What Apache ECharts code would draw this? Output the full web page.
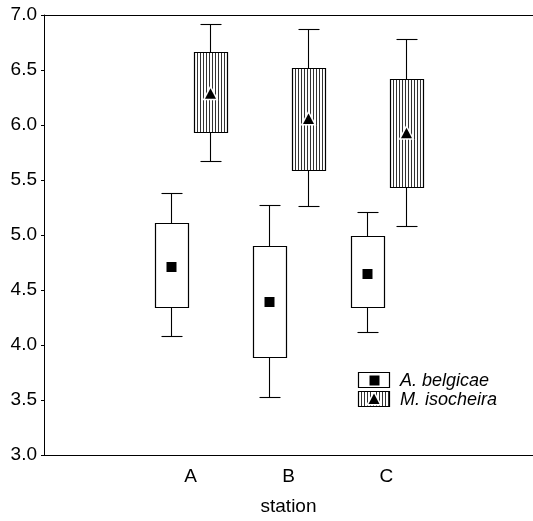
<!DOCTYPE html>
<html>
<head>
<meta charset="utf-8">
<script src="https://cdn.jsdelivr.net/npm/echarts@6/dist/echarts.min.js"></script>
<style>
  html, body { margin: 0; padding: 0; background: #fff; }
  #chart { width: 533px; height: 521px; }
</style>
</head>
<body>
<div id="chart"></div>
<script>
// stations, padded with an empty slot on each side
var categories = ['', 'A', 'B', 'C', '']
var stations = ['A', 'B', 'C']
var yTicks = [3.0, 3.5, 4.0, 4.5, 5.0, 5.5, 6.0, 6.5, 7.0]

// A. belgicae
var belgMean = [4.71, 4.39, 4.65]
var belgBoxLow = [4.35, 3.89, 4.35]
var belgBoxHigh = [5.11, 4.90, 4.99]
var belgWhiskLow = [4.08, 3.53, 4.12]
var belgWhiskHigh = [5.38, 5.27, 5.21]

// M. isocheira
var isoMean = [6.28, 6.05, 5.92]
var isoBoxLow = [5.94, 5.59, 5.44]
var isoBoxHigh = [6.66, 6.52, 6.42]
var isoWhiskLow = [5.67, 5.26, 5.08]
var isoWhiskHigh = [6.92, 6.87, 6.78]

var FONT = "'Liberation Sans', Arial, sans-serif"

function buildData(wl, bl, m, bh, wh) {
  var out = []
  for (var i = 0; i < stations.length; i++) {
    out.push([categories.indexOf(stations[i]), wl[i], bl[i], m[i], bh[i], wh[i]])
  }
  return out
}

var px = function (v) { return Math.round(v) + 0.5 }

function makeRender(hatched) {
  return function (params, api) {
    var xi = api.value(0)
    var band = api.size([1, 0])[0]
    var off = (hatched ? 1 : -1) * band * 0.198
    var w = band * 0.33
    var cap = band * 0.224
    var base = api.coord([xi, api.value(3)])
    var cx = px(base[0] + off)
    var yWL = px(api.coord([xi, api.value(1)])[1])
    var yBL = px(api.coord([xi, api.value(2)])[1])
    var yM = api.coord([xi, api.value(3)])[1]
    var yBH = px(api.coord([xi, api.value(4)])[1])
    var yWH = px(api.coord([xi, api.value(5)])[1])
    var left = px(cx - w / 2)
    var right = px(cx + w / 2)
    var line = { stroke: '#000', lineWidth: 1.1 }
    var kids = [
      { type: 'line', shape: { x1: cx, y1: yWH, x2: cx, y2: yBH }, style: line },
      { type: 'line', shape: { x1: cx, y1: yBL, x2: cx, y2: yWL }, style: line },
      { type: 'line', shape: { x1: px(cx - cap / 2), y1: yWH, x2: px(cx + cap / 2), y2: yWH }, style: line },
      { type: 'line', shape: { x1: px(cx - cap / 2), y1: yWL, x2: px(cx + cap / 2), y2: yWL }, style: line },
      { type: 'rect', shape: { x: left, y: yBH, width: right - left, height: yBL - yBH }, style: { fill: '#fff', stroke: null } }
    ]
    if (hatched) {
      for (var hx = left + 3; hx < right - 1; hx += 3) {
        kids.push({ type: 'line', shape: { x1: hx, y1: yBH, x2: hx, y2: yBL }, style: { stroke: '#333', lineWidth: 1 } })
      }
    }
    kids.push({ type: 'rect', shape: { x: left, y: yBH, width: right - left, height: yBL - yBH }, style: { fill: null, stroke: '#000', lineWidth: 1.2 } })
    if (hatched) {
      var pts = [[cx, yM - 6], [cx + 5.5, yM + 4.5], [cx - 5.5, yM + 4.5]]
      kids.push({ type: 'polygon', shape: { points: pts }, style: { fill: '#fff', stroke: '#fff', lineWidth: 3 } })
      kids.push({ type: 'polygon', shape: { points: pts }, style: { fill: '#000' } })
    } else {
      kids.push({ type: 'rect', shape: { x: cx - 5, y: Math.round(yM) - 5, width: 10, height: 10 }, style: { fill: '#000' } })
    }
    return { type: 'group', children: kids }
  }
}

// legend drawn as graphic: box icon + marker + italic name
function legendItems() {
  var items = []
  var lx = 358, w = 31, h = 15
  var rows = [{ y: 372, name: 'A. belgicae', hatched: false }, { y: 391, name: 'M. isocheira', hatched: true }]
  rows.forEach(function (r) {
    var y = r.y
    items.push({ type: 'rect', shape: { x: lx + 0.5, y: y + 0.5, width: w, height: h }, style: { fill: '#fff', stroke: null } })
    if (r.hatched) {
      for (var hx = lx + 3.5; hx < lx + w; hx += 3) {
        items.push({ type: 'line', shape: { x1: hx, y1: y + 0.5, x2: hx, y2: y + h + 0.5 }, style: { stroke: '#333', lineWidth: 1 } })
      }
      var cx = lx + w / 2 + 0.5, cy = y + h / 2 + 1
      var pts = [[cx, cy - 6], [cx + 5.5, cy + 4.5], [cx - 5.5, cy + 4.5]]
      items.push({ type: 'polygon', shape: { points: pts }, style: { fill: '#fff', stroke: '#fff', lineWidth: 3 } })
      items.push({ type: 'polygon', shape: { points: pts }, style: { fill: '#000' } })
    } else {
      items.push({ type: 'rect', shape: { x: lx + w / 2 - 4, y: y + h / 2 - 4, width: 10, height: 10 }, style: { fill: '#000' } })
    }
    items.push({ type: 'rect', shape: { x: lx + 0.5, y: y + 0.5, width: w, height: h }, style: { fill: null, stroke: '#000', lineWidth: 1.2 } })
    items.push({ type: 'text', x: 400, y: y + h / 2 + 1, style: { text: r.name, font: 'italic 18px ' + FONT, fill: '#000', verticalAlign: 'middle' } })
  })
  return items
}

var chart = echarts.init(document.getElementById('chart'))
chart.setOption({
  backgroundColor: '#fff',
  animation: false,
  grid: { left: 44, top: 15, width: 492, bottom: 62, containLabel: false },
  xAxis: [
    {
      type: 'category',
      data: categories,
      boundaryGap: true,
      name: 'station',
      nameLocation: 'middle',
      nameGap: 42,
      nameTextStyle: { fontSize: 19, fontFamily: FONT, color: '#000' },
      axisLine: { lineStyle: { color: '#000', width: 1 } },
      axisTick: { inside: true, length: 3, alignWithLabel: true, lineStyle: { color: '#000' } },
      axisLabel: { fontSize: 19, fontFamily: FONT, color: '#000', margin: 12 },
      splitLine: { show: false }
    },
    {
      type: 'category',
      data: categories,
      position: 'top',
      boundaryGap: true,
      axisLine: { lineStyle: { color: '#000', width: 1 } },
      axisTick: { inside: true, length: 3, alignWithLabel: true, lineStyle: { color: '#000' } },
      axisLabel: { show: false },
      splitLine: { show: false }
    }
  ],
  yAxis: {
    type: 'value',
    min: yTicks[0],
    max: yTicks[yTicks.length - 1],
    interval: 0.5,
    axisLine: { show: true, lineStyle: { color: '#000', width: 1 } },
    axisTick: { show: true, length: 3, lineStyle: { color: '#000' } },
    axisLabel: {
      fontSize: 19, fontFamily: FONT, color: '#000', margin: 7,
      formatter: function (v) { return v.toFixed(1) }
    },
    splitLine: { show: false }
  },
  series: [
    {
      name: 'A. belgicae',
      type: 'custom',
      renderItem: makeRender(false),
      encode: { x: 0, y: [1, 2, 3, 4, 5] },
      data: buildData(belgWhiskLow, belgBoxLow, belgMean, belgBoxHigh, belgWhiskHigh)
    },
    {
      name: 'M. isocheira',
      type: 'custom',
      renderItem: makeRender(true),
      encode: { x: 0, y: [1, 2, 3, 4, 5] },
      data: buildData(isoWhiskLow, isoBoxLow, isoMean, isoBoxHigh, isoWhiskHigh)
    }
  ],
  graphic: legendItems()
})
</script>
</body>
</html>
